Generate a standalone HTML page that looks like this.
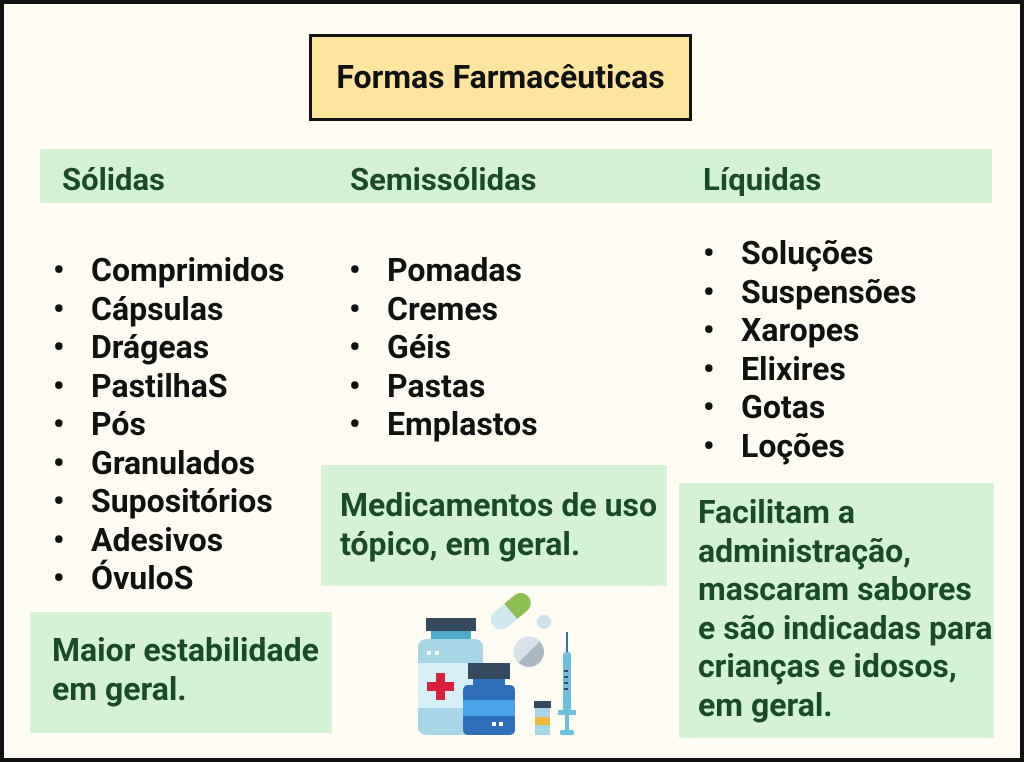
<!DOCTYPE html>
<html><head><meta charset="utf-8"><style>
html,body{margin:0;padding:0}
body{width:1024px;height:762px;position:relative;background:#fefbf3;overflow:hidden;font-family:"Roboto","Liberation Sans",sans-serif;font-weight:bold}
.frame{position:absolute;left:0;top:0;width:1016px;height:754px;border:4px solid #111}
.abs{position:absolute;white-space:nowrap}
.title{left:309px;top:34px;width:377px;height:81px;border:3px solid #111;background:#fee59e;font-size:32px;color:#111;text-align:center;line-height:81px}
.band{left:40px;top:149px;width:952px;height:54px;background:#d5f2d5}
.h{font-size:31px;color:#1b4a26;top:163px;line-height:34px}
.list{font-size:32px;color:#111;line-height:38.5px}
.list div{position:relative;padding-left:35px}
.list div:before{content:"•";position:absolute;left:-3px;top:0;font-size:32px}
.box{background:#d5f2d5;color:#1b4a26;font-size:32px;line-height:39px;white-space:nowrap}
</style></head><body>
<div class="frame"></div>
<div class="abs title">Formas Farmacêuticas</div>
<div class="abs band"></div>
<div class="abs h" style="left:62px">Sólidas</div>
<div class="abs h" style="left:350px">Semissólidas</div>
<div class="abs h" style="left:703px">Líquidas</div>
<div class="abs list" style="left:56px;top:251px">
<div>Comprimidos</div><div>Cápsulas</div><div>Drágeas</div><div>PastilhaS</div><div>Pós</div><div>Granulados</div><div>Supositórios</div><div>Adesivos</div><div>ÓvuloS</div></div>
<div class="abs list" style="left:352px;top:251px">
<div>Pomadas</div><div>Cremes</div><div>Géis</div><div>Pastas</div><div>Emplastos</div></div>
<div class="abs list" style="left:706px;top:234px">
<div>Soluções</div><div>Suspensões</div><div>Xaropes</div><div>Elixires</div><div>Gotas</div><div>Loções</div></div>
<div class="abs box" style="left:30px;top:612px;width:280px;padding:19px 0 11px 22px;height:91px">Maior estabilidade<br>em geral.</div>
<div class="abs box" style="left:321px;top:465px;width:327px;padding:21px 0 22px 19px;height:78px">Medicamentos de uso<br>tópico, em geral.</div>
<div class="abs box" style="left:679px;top:483px;width:296px;padding:10px 0 13px 19px;height:232px;line-height:38.6px">Facilitam a<br>administração,<br>mascaram sabores<br>e são indicadas para<br>crianças e idosos,<br>em geral.</div>
<svg class="abs" style="left:0;top:0" width="1024" height="762">
<g transform="rotate(-40 510 612)">
<rect x="488" y="602" width="46" height="20" rx="10" fill="#cfe8f0"/>
<path d="M511 602 h13 a10 10 0 0 1 0 20 h-13z" fill="#8cc152"/>
</g>
<circle cx="544" cy="622" r="7" fill="#cfe0e8"/>
<circle cx="529" cy="652" r="15" fill="#aab8c2"/>
<path d="M518 663 L540 641 A15 15 0 0 0 518 663z" fill="#d8e2ea"/>
<rect x="426" y="618" width="50" height="13" fill="#34495e"/>
<rect x="431" y="631" width="40" height="8" fill="#4fa9c8"/>
<rect x="418" y="639" width="65" height="96" rx="8" fill="#a9d6e6"/>
<rect x="418" y="663" width="65" height="45" fill="#d6eef5"/>
<rect x="436" y="673" width="9" height="27" fill="#da1f3d"/>
<rect x="427" y="682" width="27" height="9" fill="#da1f3d"/>
<rect x="427" y="651" width="4" height="4" fill="#fff"/><rect x="435" y="651" width="4" height="4" fill="#fff"/>
<rect x="468" y="663" width="42" height="16" fill="#34495e"/>
<rect x="473" y="679" width="32" height="6" fill="#2a6fb8"/>
<rect x="463" y="685" width="52" height="50" rx="5" fill="#2f6fba"/>
<rect x="463" y="700" width="52" height="16" fill="#4aa3e8"/>
<rect x="492" y="722" width="4" height="4" fill="#fff"/><rect x="499" y="722" width="4" height="4" fill="#fff"/>
<rect x="534" y="701" width="17" height="7" fill="#34495e"/>
<rect x="535" y="708" width="15" height="27" fill="#a9d6e6"/>
<rect x="535" y="717" width="15" height="8" fill="#f5b73b"/>
<rect x="566" y="632" width="2" height="22" fill="#2a6fb8"/>
<rect x="563" y="652" width="8" height="60" rx="3" fill="#6ec0e0"/>
<rect x="564" y="670" width="4" height="2" fill="#34495e"/><rect x="564" y="676" width="4" height="2" fill="#34495e"/><rect x="564" y="682" width="4" height="2" fill="#34495e"/><rect x="564" y="688" width="4" height="2" fill="#34495e"/>
<rect x="558" y="710" width="18" height="5" fill="#6ec0e0"/>
<rect x="565" y="715" width="4" height="16" fill="#6ec0e0"/>
<rect x="560" y="730" width="14" height="5" rx="2" fill="#6ec0e0"/>
</svg>
</body></html>
